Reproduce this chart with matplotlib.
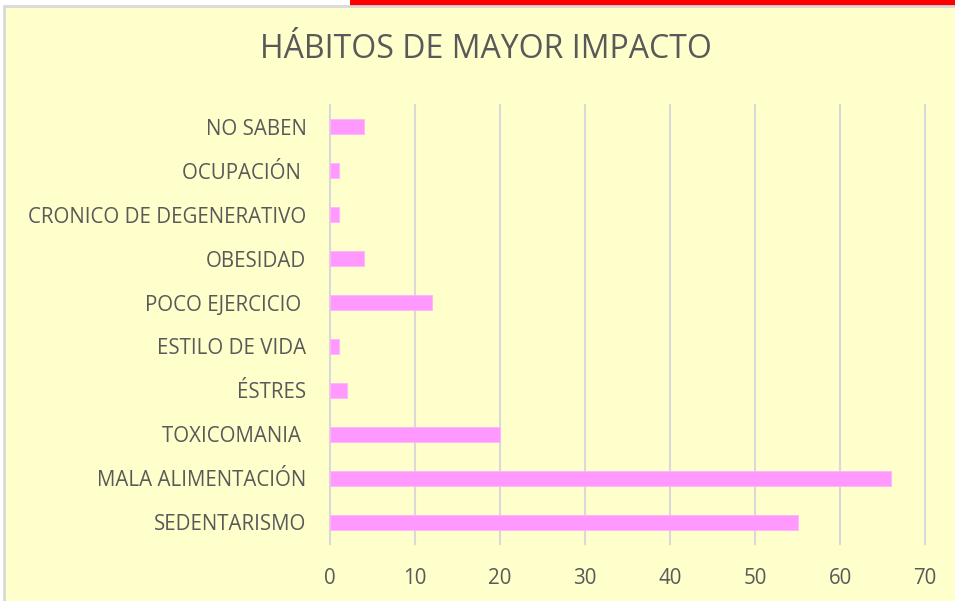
import matplotlib.pyplot as plt
from matplotlib.patches import Rectangle

categories = ['SEDENTARISMO', 'MALA ALIMENTACIÓN', 'TOXICOMANIA ', 'ÉSTRES',
              'ESTILO DE VIDA', 'POCO EJERCICIO ', 'OBESIDAD',
              'CRONICO DE DEGENERATIVO', 'OCUPACIÓN ', 'NO SABEN']
values = [55, 66, 20, 2, 1, 12, 4, 1, 1, 4]
xticks = [0, 10, 20, 30, 40, 50, 60, 70]

bg = '#FFFFCC'
bar_color = '#FF99FF'
grid_color = '#D9D9D9'
text_color = '#595959'

plt.rcParams['font.family'] = ['Open Sans', 'DejaVu Sans']

fig = plt.figure(figsize=(9.55, 6.01), dpi=100)
fig.patch.set_facecolor('white')

# red strip at top right and chart area with grey border
fig.patches.append(Rectangle((350 / 955, 1 - 6 / 601), 1, 6 / 601,
                             transform=fig.transFigure, facecolor='#FF0000',
                             edgecolor='none', zorder=-10))
fig.patches.append(Rectangle((4 / 955, -0.05), 1.1, 1 - 6 / 601 + 0.05,
                             transform=fig.transFigure, facecolor=bg,
                             edgecolor=grid_color, linewidth=2, zorder=-10))

ax = fig.add_axes([330 / 955, 1 - 544 / 601, (925 - 330) / 955, (544 - 105) / 601])
ax.set_facecolor('none')
ax.set_zorder(5)

ypos = list(range(len(categories)))
ax.barh(ypos, values, height=0.34, color=bar_color, edgecolor='#FFB3FF',
        linewidth=0.6, zorder=3)

ax.set_xlim(0, 70)
ax.set_ylim(-0.5, len(categories) - 0.5)
ax.set_xticks(xticks)
ax.set_yticks(ypos)
ax.set_yticklabels(categories)

for x in xticks:
    ax.axvline(x, color=grid_color, linewidth=1.5, zorder=1, clip_on=False)

for s in ax.spines.values():
    s.set_visible(False)
ax.tick_params(axis='both', length=0, labelsize=14.8, colors=text_color)
ax.tick_params(axis='x', pad=17)
ax.tick_params(axis='y', pad=17)

fig.text(486 / 955, 1 - 50 / 601, 'HÁBITOS DE MAYOR IMPACTO', ha='center',
         va='center', fontsize=23, color=text_color)

fig.savefig('out.png', dpi=100, facecolor=fig.get_facecolor())
